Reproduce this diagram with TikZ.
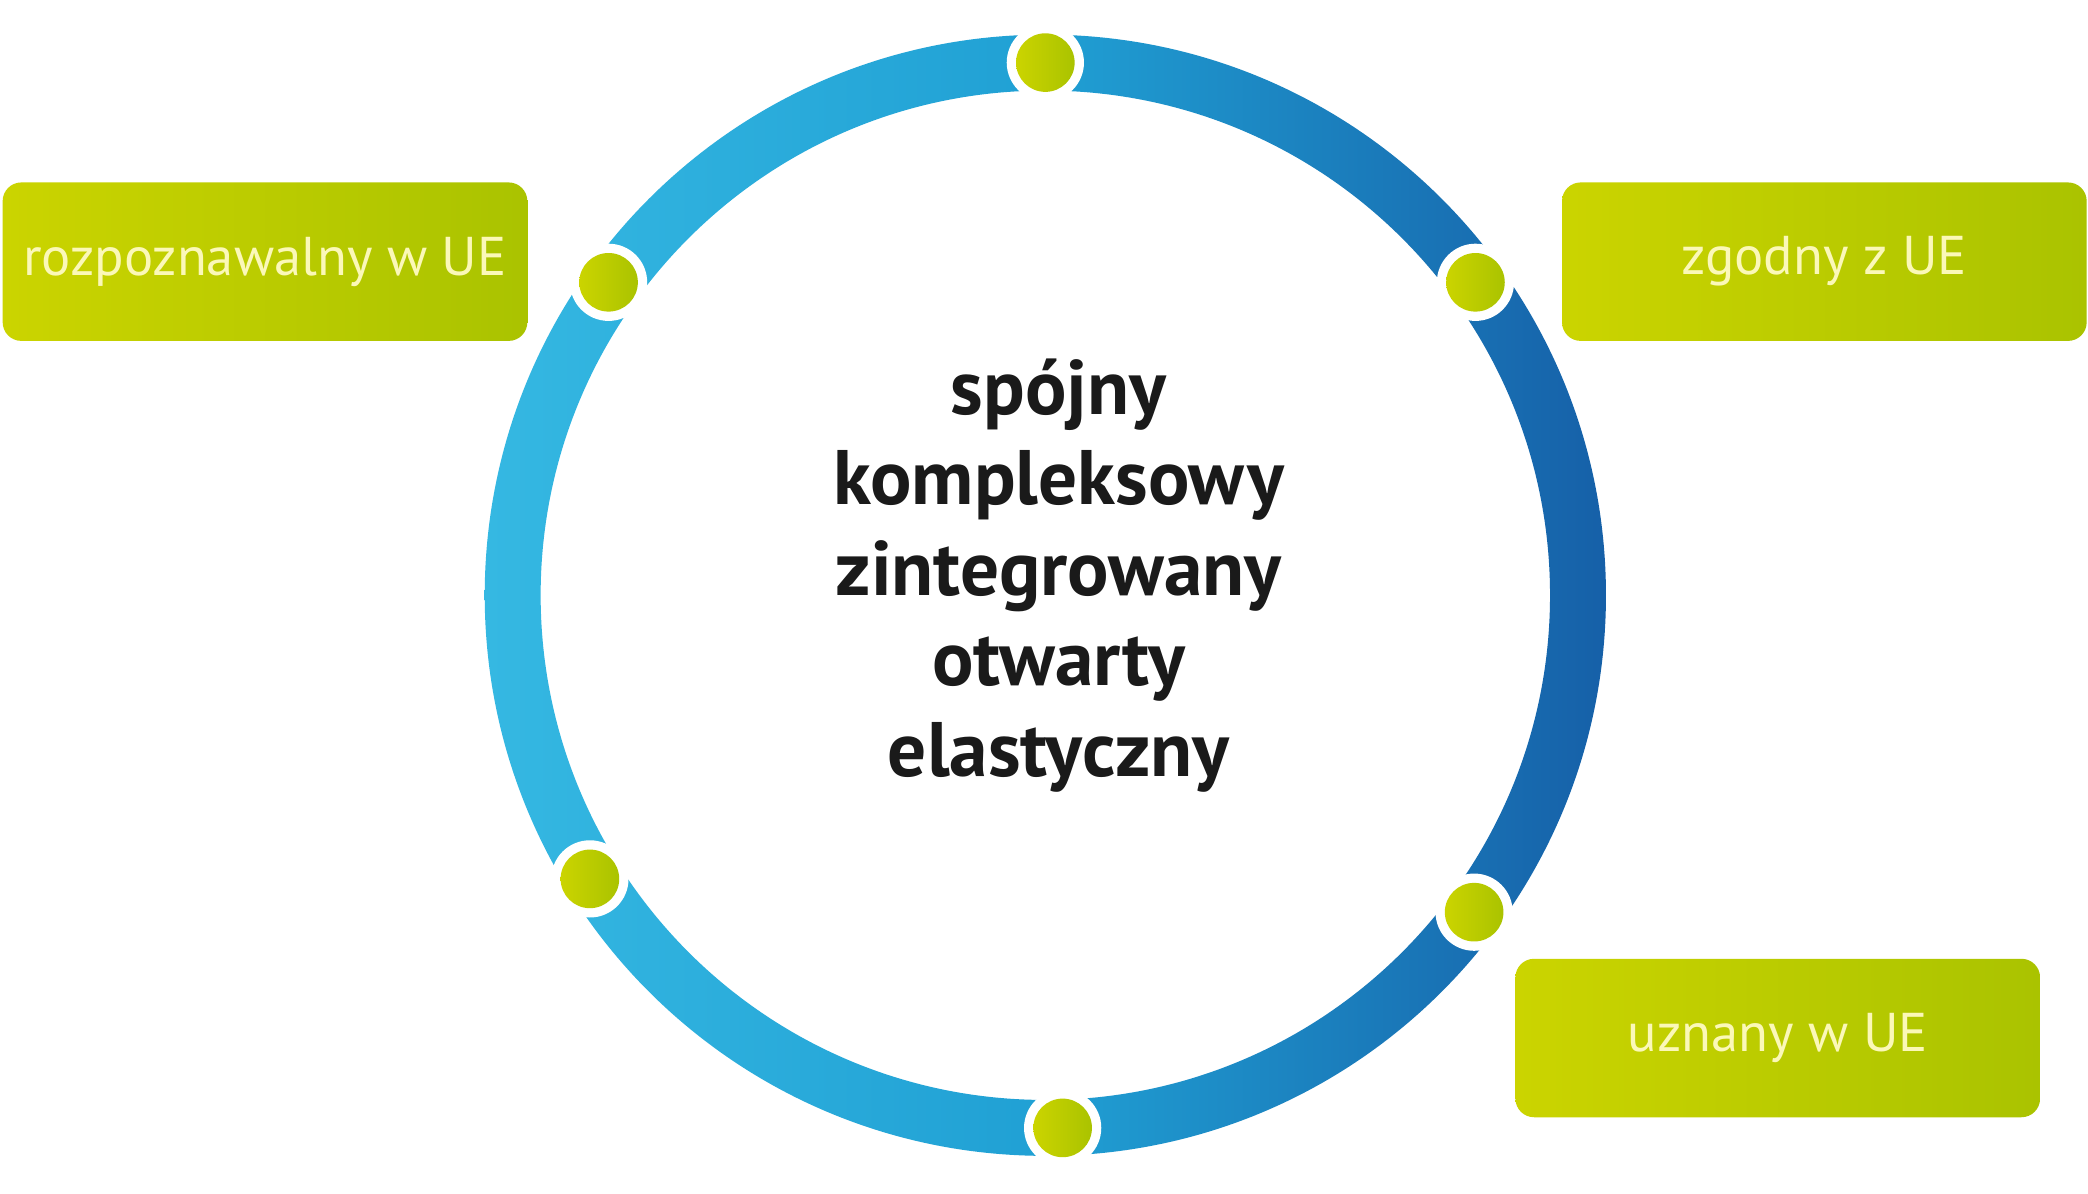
\documentclass[tikz,border=0pt]{standalone}
\usepackage{fontspec}
\setmainfont{PT Sans}
\begin{document}
\begin{tikzpicture}[x=1pt,y=-1pt,
  boxstyle/.style={rounded corners=14pt, left color=boxL, right color=boxR},
  boxtext/.style={text=boxT, font=\fontsize{41}{44}\selectfont},
  dotwhite/.style={fill=white},
  dotgreen/.style={left color=boxL, right color=boxR},
  centertext/.style={text=ctext, font=\bfseries\fontsize{58}{68}\selectfont, align=center}]
\definecolor{ringL}{HTML}{35B8E2}
\definecolor{ringM}{HTML}{20A0D4}
\definecolor{ringR}{HTML}{1660A8}
\definecolor{boxL}{HTML}{CBD400}
\definecolor{boxR}{HTML}{AAC300}
\definecolor{boxT}{HTML}{FBF8B8}
\definecolor{ctext}{HTML}{1A1A1A}
\useasboundingbox (0,0) rectangle (1568,896);
\fill[white] (0,0) rectangle (1568,896);
\coordinate (c) at (785,447);
% ring
\shade[even odd rule, left color=ringL, right color=ringR, middle color=ringM]
  (c) circle[radius=421] (c) circle[radius=379];
% dots
\foreach \n/\px/\py in {dt/785/47, dul/457/212, dur/1108/212, dll/443/660, dlr/1107/685, db/798/847}{
  \fill[dotwhite] (\px,\py) circle[radius=29];
  \shade[dotgreen] (\px,\py) circle[radius=22];
  \coordinate (\n) at (\px,\py);
}
% boxes
\shade[boxstyle] (2,137) rectangle (396,256);
\node[boxtext] (bl) at (199,196.5) {rozpoznawalny w UE};
\shade[boxstyle] (1173,137) rectangle (1567,256);
\node[boxtext] (br) at (1370,196.5) {zgodny z UE};
\shade[boxstyle] (1138,720) rectangle (1532,839);
\node[boxtext] (bb) at (1335,779.5) {uznany w UE};
% center text
\node[centertext] (ct) at (795,432) {spójny\\kompleksowy\\zintegrowany\\otwarty\\elastyczny};
\end{tikzpicture}
\end{document}
